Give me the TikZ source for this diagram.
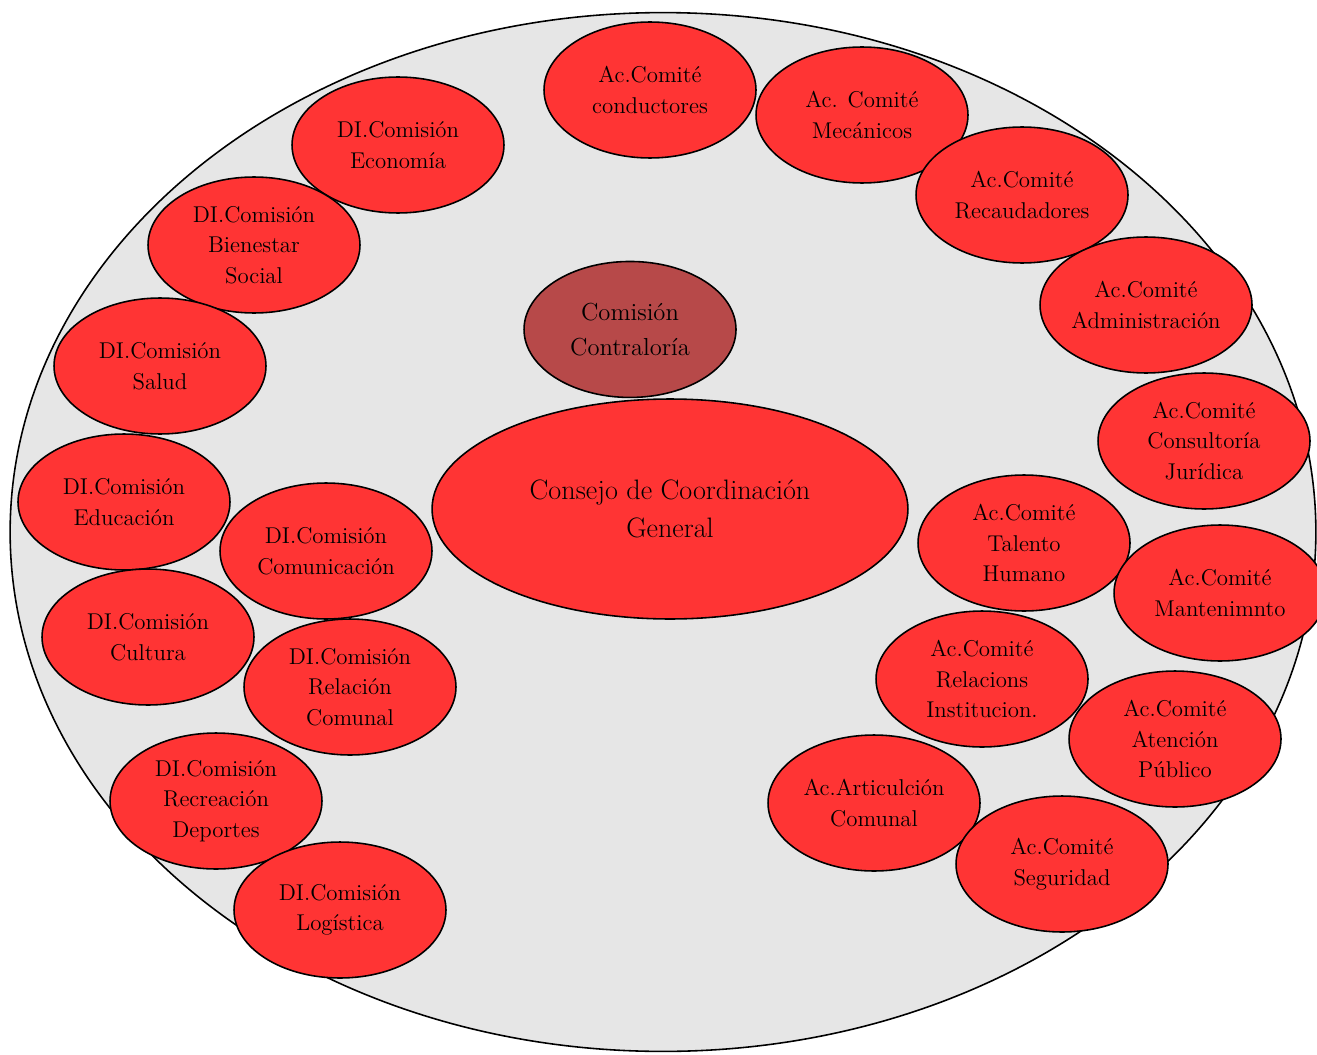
\documentclass[tikz,border=0pt]{standalone}
\usetikzlibrary{shapes.geometric,
positioning}
\definecolor{rojo}{HTML}{FF3434}
\definecolor{granate}{HTML}{B74949}
\definecolor{fondo}{HTML}{E6E6E6}

\begin{document}
\begin{tikzpicture} [x = 0.02cm,
    y = -0.02cm,
    line width = 0.9pt,
    main node/.style={ellipse, fill = rojo, draw,
        align=center, inner sep = 0pt,
        minimum width = 4.24cm, minimum height = 2.72cm,
        font = \fontsize{13}{17.3}\selectfont}
  ]
  \useasboundingbox (0, 0) rectangle (1317, 1054);

  \node [ellipse,
    draw,
    fill = fondo,
    minimum width = 26.12cm,
    minimum height = 20.78cm
  ] (marco) at (663, 532) {};

  %%%%%%%%%%%%%%%%%%%%%%%%%%%%%% Comites

  \node [main node] (conductores) at (650, 90) {Ac.Comité\\conductores};
  \node [main node] (mecanicos) at (862, 115) {Ac. Comité\\Mecánicos};
  \node [main node] (recaudadores) at (1022, 195) {Ac.Comité\\Recaudadores};
  \node [main node] (administracion) at (1146, 305) {Ac.Comité\\Administración};
  \node [main node] (juridica) at (1204, 441) {Ac.Comité\\Consultoría\\Jurídica};
  \node [main node] (talento) at (1024, 543) {Ac.Comité\\Talento\\Humano};
  \node [main node] (mantenimiento) at (1220, 593) {Ac.Comité\\Mantenimnto};
  \node [main node] (relaciones) at (982, 679) {Ac.Comité\\Relacions\\Institucion.};
  \node [main node] (atencion) at (1175, 739) {Ac.Comité\\Atención\\Público};
  \node [main node] (articulacion) at (874, 803) {Ac.Articulción\\Comunal};
  \node [main node] (seguridad) at (1062, 864) {Ac.Comité\\Seguridad};

  %%%%%%%%%%%%%%%%%%%%%%%%%%%%%% Comisiones

  \node [main node] (economia) at (398, 145) {DI.Comisión\\Economía};
  \node [main node] (bienestar) at (254, 245) {DI.Comisión\\Bienestar\\Social};
  \node [main node] (salud) at (160, 366) {DI.Comisión\\Salud};
  \node [main node] (educacion) at (124, 502) {DI.Comisión\\Educación};
  \node [main node] (comunicacion) at (326, 551) {DI.Comisión\\Comunicación};
  \node [main node] (cultura) at (148, 637) {DI.Comisión\\Cultura};
  \node [main node] (relacion) at (350, 687) {DI.Comisión\\Relación\\Comunal};
  \node [main node] (recreacion) at (216, 801) {DI.Comisión\\Recreación\\Deportes};
  \node [main node] (logistica) at (340, 910) {DI.Comisión\\Logística};

  %%%%%%%%%%%%%%%%%%%%%%%%%%%%%% Centro

  \node [main node,
    minimum width = 9.52cm,
    minimum height = 4.4cm,
    font = \fontsize{16}{21.5}\selectfont
  ] (consejo) at (670, 509) {Consejo de Coordinación\\General};

  \node [main node,
    fill = granate,
    font = \fontsize{14}{20}\selectfont,
    above = 0pt of consejo,
    xshift = -0.8cm
  ] (contraloria) {Comisión\\Contraloría};

\end{tikzpicture}
\end{document}
